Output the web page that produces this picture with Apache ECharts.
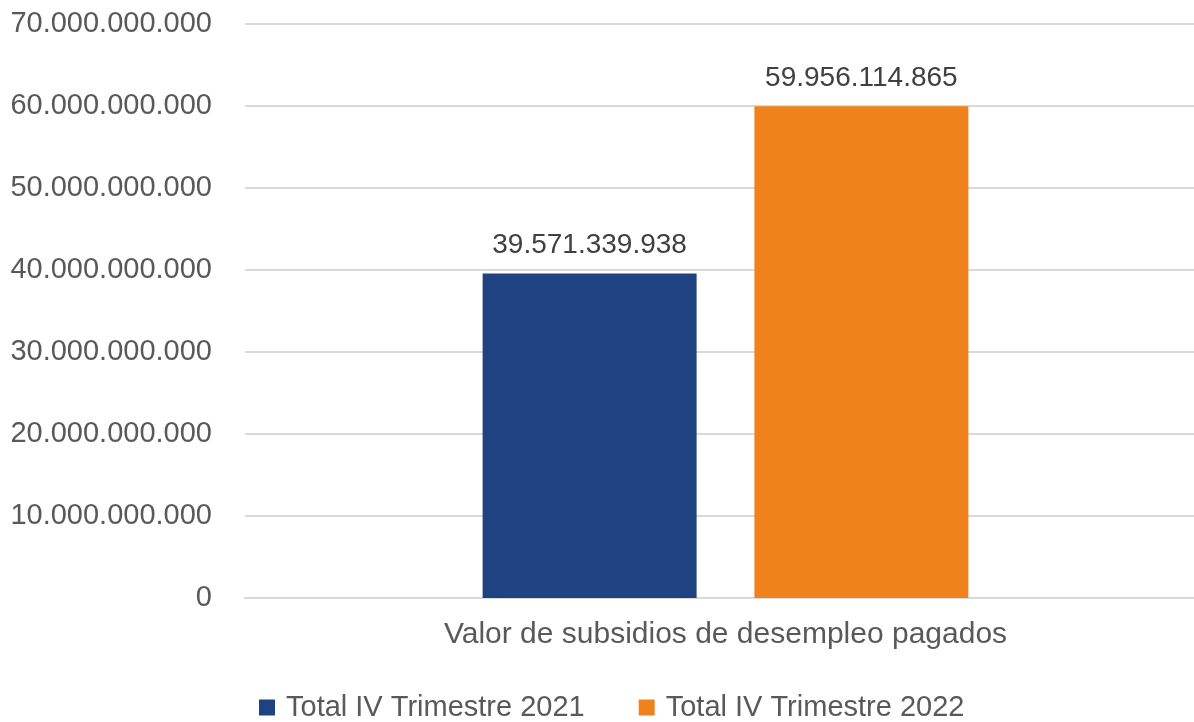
<!DOCTYPE html>
<html>
<head>
<meta charset="utf-8">
<script src="https://cdn.jsdelivr.net/npm/echarts@6/dist/echarts.min.js"></script>
<style>
  html, body { margin: 0; padding: 0; background: #fff; }
  #chart { width: 1194px; height: 722px; }
</style>
</head>
<body>
<div id="chart"></div>
<script>
// 데이터
const categories = ['Valor de subsidios de desempleo pagados'];
const seriesNames = ['Total IV Trimestre 2021', 'Total IV Trimestre 2022'];
const values2021 = [39571339938];
const values2022 = [59956114865];

const fontFamily = '"Liberation Sans", Arial, Helvetica, sans-serif';

// 천 단위 구분자를 점으로
function fmt(v) {
    return String(Math.round(v)).replace(/\B(?=(\d{3})+(?!\d))/g, '.');
}

const chart = echarts.init(document.getElementById('chart'));

const option = {
    animation: false,
    textStyle: { fontFamily: fontFamily },
    legend: {
        data: seriesNames,
        bottom: -5,
        left: 254,
        itemGap: 54,
        itemWidth: 16,
        itemHeight: 16,
        icon: 'rect',
        textStyle: {
            fontSize: 29,
            color: '#595959',
            fontFamily: fontFamily,
            padding: [0, 0, 0, 6]
        }
    },
    grid: {
        left: 245,
        right: -12,
        top: 24,
        bottom: 124,
        outerBoundsMode: 'none'
    },
    xAxis: {
        type: 'category',
        data: categories,
        axisLine: { show: true, lineStyle: { color: '#d9d9d9', width: 2 } },
        axisTick: { show: false },
        axisLabel: { fontSize: 30, color: '#595959', margin: 22, fontFamily: fontFamily }
    },
    yAxis: {
        type: 'value',
        min: 0,
        max: 70000000000,
        interval: 10000000000,
        axisLine: { show: false },
        axisTick: { show: false },
        splitLine: { lineStyle: { color: '#d9d9d9', width: 2 } },
        axisLabel: {
            fontSize: 29,
            color: '#595959',
            margin: 33,
            fontFamily: fontFamily,
            formatter: fmt
        }
    },
    series: [
        {
            name: seriesNames[0],
            type: 'bar',
            data: values2021,
            barWidth: 214,
            barGap: '27%',
            itemStyle: { color: '#1f4280' },
            label: {
                show: true,
                position: 'top',
                distance: 14,
                fontSize: 28,
                color: '#404040',
                fontFamily: fontFamily,
                formatter: p => fmt(p.value)
            }
        },
        {
            name: seriesNames[1],
            type: 'bar',
            data: values2022,
            barWidth: 214,
            itemStyle: { color: '#f0821b' },
            label: {
                show: true,
                position: 'top',
                distance: 14,
                fontSize: 28,
                color: '#404040',
                fontFamily: fontFamily,
                formatter: p => fmt(p.value)
            }
        }
    ]
};

chart.setOption(option);
</script>
</body>
</html>
